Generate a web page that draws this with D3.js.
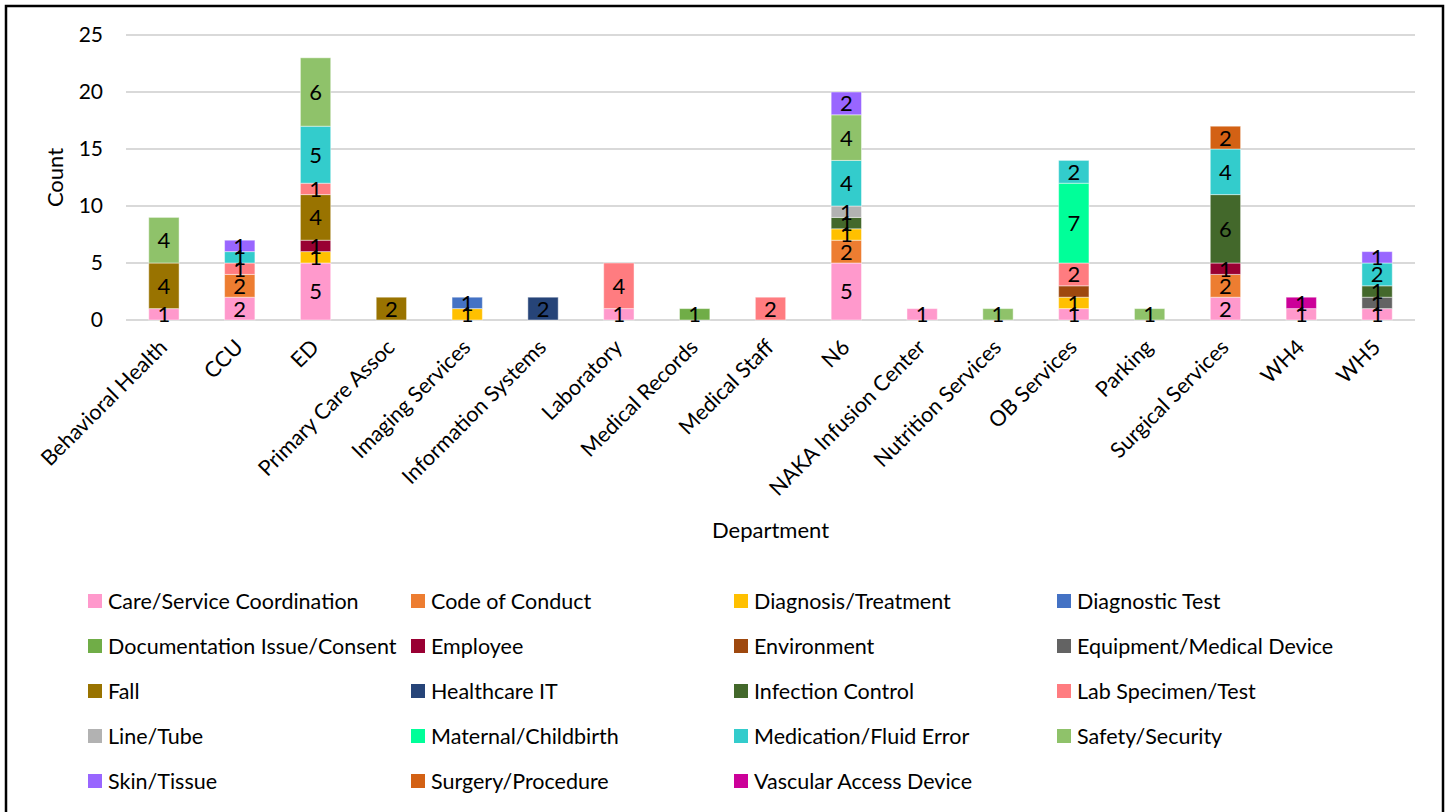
<!DOCTYPE html>
<html>
<head>
<meta charset="utf-8">
<script src="https://cdn.jsdelivr.net/npm/d3@7"></script>
<style>
  body { margin: 0; background: #fff; }
  text { font-family: Lato, "Open Sans", sans-serif; fill: #000; }
</style>
</head>
<body>
<div id="chart"></div>
<script>
// departments along the x axis
const departments = ["Behavioral Health", "CCU", "ED", "Primary Care Assoc", "Imaging Services",
  "Information Systems", "Laboratory", "Medical Records", "Medical Staff", "N6",
  "NAKA Infusion Center", "Nutrition Services", "OB Services", "Parking",
  "Surgical Services", "WH4", "WH5"];

// event categories (stack order, bottom to top)
const categories = ["Care/Service Coordination", "Code of Conduct", "Diagnosis/Treatment", "Diagnostic Test",
  "Documentation Issue/Consent", "Employee", "Environment", "Equipment/Medical Device",
  "Fall", "Healthcare IT", "Infection Control", "Lab Specimen/Test",
  "Line/Tube", "Maternal/Childbirth", "Medication/Fluid Error", "Safety/Security",
  "Skin/Tissue", "Surgery/Procedure", "Vascular Access Device"];

const colors = ["#ff99cc", "#ed7d31", "#ffc000", "#4472c4",
  "#70ad47", "#990033", "#9e480e", "#636363",
  "#997300", "#264478", "#43682b", "#ff7c80",
  "#b2b2b2", "#00ff99", "#33cccc", "#8fc26a",
  "#9966ff", "#d36114", "#cc0099"];

// counts[category][department]
const counts = [
  [1, 2, 5, 0, 0, 0, 1, 0, 0, 5, 1, 0, 1, 0, 2, 1, 1],
  [0, 2, 0, 0, 0, 0, 0, 0, 0, 2, 0, 0, 0, 0, 2, 0, 0],
  [0, 0, 1, 0, 1, 0, 0, 0, 0, 1, 0, 0, 1, 0, 0, 0, 0],
  [0, 0, 0, 0, 1, 0, 0, 0, 0, 0, 0, 0, 0, 0, 0, 0, 0],
  [0, 0, 0, 0, 0, 0, 0, 1, 0, 0, 0, 0, 0, 0, 0, 0, 0],
  [0, 0, 1, 0, 0, 0, 0, 0, 0, 0, 0, 0, 0, 0, 1, 0, 0],
  [0, 0, 0, 0, 0, 0, 0, 0, 0, 0, 0, 0, 1, 0, 0, 0, 0],
  [0, 0, 0, 0, 0, 0, 0, 0, 0, 0, 0, 0, 0, 0, 0, 0, 1],
  [4, 0, 4, 2, 0, 0, 0, 0, 0, 0, 0, 0, 0, 0, 0, 0, 0],
  [0, 0, 0, 0, 0, 2, 0, 0, 0, 0, 0, 0, 0, 0, 0, 0, 0],
  [0, 0, 0, 0, 0, 0, 0, 0, 0, 1, 0, 0, 0, 0, 6, 0, 1],
  [0, 1, 1, 0, 0, 0, 4, 0, 2, 0, 0, 0, 2, 0, 0, 0, 0],
  [0, 0, 0, 0, 0, 0, 0, 0, 0, 1, 0, 0, 0, 0, 0, 0, 0],
  [0, 0, 0, 0, 0, 0, 0, 0, 0, 0, 0, 0, 7, 0, 0, 0, 0],
  [0, 1, 5, 0, 0, 0, 0, 0, 0, 4, 0, 0, 2, 0, 4, 0, 2],
  [4, 0, 6, 0, 0, 0, 0, 0, 0, 4, 0, 1, 0, 1, 0, 0, 0],
  [0, 1, 0, 0, 0, 0, 0, 0, 0, 2, 0, 0, 0, 0, 0, 0, 1],
  [0, 0, 0, 0, 0, 0, 0, 0, 0, 0, 0, 0, 0, 0, 2, 0, 0],
  [0, 0, 0, 0, 0, 0, 0, 0, 0, 0, 0, 0, 0, 0, 0, 1, 0]
];

// data labels that the original chart does not show
const hiddenLabels = ["OB Services|Environment"];

const yTicks = [0, 5, 10, 15, 20, 25];

const width = 1447, height = 812;
const plot = {left: 126, right: 1415, top: 35, bottom: 320};

const svg = d3.select("#chart").append("svg")
  .attr("width", width)
  .attr("height", height);

// outer frame
svg.append("rect")
  .attr("x", 6).attr("y", 6)
  .attr("width", 1437).attr("height", 820)
  .attr("fill", "none")
  .attr("stroke", "#000")
  .attr("stroke-width", 2.5);

const x = d3.scaleBand().domain(departments).range([plot.left, plot.right]).paddingInner(0.6).paddingOuter(0.3);
const y = d3.scaleLinear().domain([0, 25]).range([plot.bottom, plot.top]);
const color = d3.scaleOrdinal().domain(categories).range(colors);

// gridlines
svg.append("g").selectAll("line")
  .data(yTicks)
  .join("line")
  .attr("x1", plot.left).attr("x2", plot.right)
  .attr("y1", d => y(d)).attr("y2", d => y(d))
  .attr("stroke", "#d9d9d9")
  .attr("stroke-width", 2);

// y tick labels
svg.append("g").selectAll("text")
  .data(yTicks)
  .join("text")
  .attr("x", 103)
  .attr("y", d => y(d))
  .attr("dy", "0.35em")
  .attr("text-anchor", "end")
  .style("font-size", "21px")
  .text(d => d);

// build rows for stacking
const rows = departments.map((dep, j) => {
  const row = {department: dep};
  categories.forEach((c, i) => { row[c] = counts[i][j]; });
  return row;
});
const stacked = d3.stack().keys(categories)(rows);

const layers = svg.append("g").selectAll("g")
  .data(stacked)
  .join("g")
  .attr("fill", d => color(d.key));

layers.selectAll("rect")
  .data(d => d.filter(s => s[1] > s[0]))
  .join("rect")
  .attr("x", d => x(d.data.department))
  .attr("width", x.bandwidth())
  .attr("y", d => y(d[1]))
  .attr("height", d => y(d[0]) - y(d[1]))
  .attr("stroke", "#fff")
  .attr("stroke-opacity", 0.45)
  .attr("stroke-width", 1);

// data labels
const labelData = [];
stacked.forEach(layer => {
  layer.forEach(s => {
    const v = s[1] - s[0];
    if (v > 0 && !hiddenLabels.includes(s.data.department + "|" + layer.key)) {
      labelData.push({dep: s.data.department, v: v, mid: (s[0] + s[1]) / 2});
    }
  });
});
svg.append("g").selectAll("text")
  .data(labelData)
  .join("text")
  .attr("x", d => x(d.dep) + x.bandwidth() / 2)
  .attr("y", d => y(d.mid))
  .attr("dy", "0.36em")
  .attr("text-anchor", "middle")
  .style("font-size", "22px")
  .text(d => d.v);

// x tick labels
svg.append("g").selectAll("text")
  .data(departments)
  .join("text")
  .attr("transform", d => `translate(${x(d) + x.bandwidth() / 2 - 6},${plot.bottom + 18}) rotate(-45)`)
  .attr("text-anchor", "end")
  .attr("dy", "0.7em")
  .style("font-size", "21.5px")
  .text(d => d);

// axis titles
svg.append("text")
  .attr("transform", `translate(63,${(plot.top + plot.bottom) / 2}) rotate(-90)`)
  .attr("text-anchor", "middle")
  .style("font-size", "22px")
  .text("Count");

svg.append("text")
  .attr("x", (plot.left + plot.right) / 2)
  .attr("y", 538)
  .attr("text-anchor", "middle")
  .style("font-size", "22px")
  .text("Department");

// legend, 4 columns
const legend = svg.append("g").selectAll("g")
  .data(categories)
  .join("g")
  .attr("transform", (d, i) => `translate(${88 + (i % 4) * 323},${601 + Math.floor(i / 4) * 45})`);

legend.append("rect")
  .attr("x", 0).attr("y", -7)
  .attr("width", 14).attr("height", 14)
  .attr("fill", d => color(d));

legend.append("text")
  .attr("x", 20)
  .attr("dy", "0.35em")
  .style("font-size", "21.5px")
  .text(d => d);
</script>
</body>
</html>
